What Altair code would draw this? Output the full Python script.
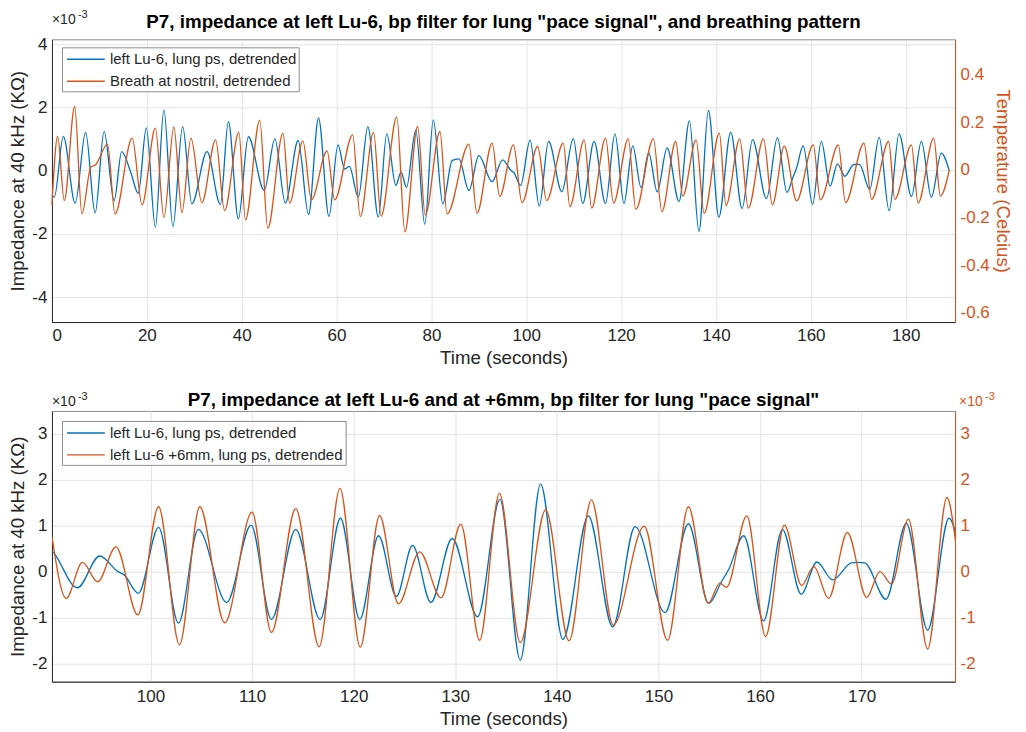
import altair as alt
import pandas as pd

# ---------------- data ----------------
S_IMP = "left Lu-6, lung ps, detrended"
S_BR = "Breath at nostril, detrended"
S_6MM = "left Lu-6 +6mm, lung ps, detrended"
TITLE_TOP = 'P7, impedance at left Lu-6, bp filter for lung "pace signal", and breathing pattern'
TITLE_BOT = 'P7, impedance at left Lu-6 and at +6mm, bp filter for lung "pace signal"'

# impedance at left Lu-6 (x10^-3 KOhm), time in s
t_imp = [0, 0.5, 2.4, 4.9, 7.1, 9.1, 11.0, 13.1, 14.7, 16.6, 18.2, 19.9, 21.8, 23.6, 25.5,
         27.55, 29.5, 32.7, 35.5, 37.2, 39.3, 41.4, 44.75, 47.0, 49.2, 51.9, 54.1, 56.2, 58.4,
         60.3, 61.7, 62.7, 64.6, 66.6, 68.8, 70.6, 72.5, 73.6, 74.75, 76.7, 78.6, 80.4, 82.4,
         84.4, 85.8, 87.9, 90.0, 92.8, 95.0, 96.8, 97.4, 98.8, 100.8, 102.75, 104.7, 107.5,
         109.9, 111.9, 114.3, 116.7, 118.7, 120.6, 122.45, 124.2, 125.8, 127.6, 129.7, 132.2,
         134.4, 136.4, 138.4, 140.6, 143.1, 145.5, 147.7, 150.65, 152.95, 154.95, 156.2, 156.9,
         158.4, 160.35, 162.2, 164.05, 165.6, 167.15, 169.0, 169.6, 170.3, 172.4, 174.4, 176.5,
         178.6, 181.2, 183.3, 185.4, 187.5, 189.2]
v_imp = [-0.79, -0.84, 1.08, -1.03, 1.21, -1.34, 1.23, -0.95, 0.6, -0.05, -0.72, 1.35, -1.79,
         1.92, -1.77, 1.39, -1.05, 0.6, -1.07, 1.55, -1.53, 1.07, -0.63, 1.0, -1.03, 0.95, -1.39,
         1.66, -1.45, 0.81, 0.05, 0.13, -0.84, 1.39, -1.47, 1.16, -0.47, -0.05, -0.53, 1.28,
         -1.7, 1.6, -1.05, 0.32, 0.37, -0.63, 0.47, -0.35, 0.34, 0.0, -0.07, -0.47, 0.96, -1.12,
         0.92, -0.67, 1.01, -1.04, 0.92, -1.04, 1.16, -1.04, 0.78, -0.54, 0.57, -0.67, 0.72,
         -0.98, 1.57, -1.92, 1.9, -1.47, 1.21, -1.2, 0.98, -0.89, 1.04, -0.69, -0.22, 0.04,
         0.78, -1.07, 0.92, -0.49, 0.21, -0.18, 0.19, 0.2, 0.19, -0.6, 1.05, -1.27, 1.16, -0.82,
         0.92, -0.84, 0.55, -0.02]

# breath temperature at nostril (Celsius)
t_br = [0, 1.2, 2.6, 4.8, 6.3, 8.2, 9.2, 11.7, 13.3, 16.9, 19.0, 21.8, 23.6, 25.7, 27.4, 29.3,
        31.6, 34.5, 36.4, 39.4, 40.8, 43.8, 45.5, 48.7, 50.1, 52.9, 54.7, 58.0, 59.6, 63.4, 65.0,
        67.8, 69.4, 72.7, 74.4, 77.1, 78.7, 81.8, 83.3, 87.9, 89.6, 92.8, 94.4, 97.3, 99.1,
        102.4, 104.3, 107.8, 109.2, 112.2, 113.8, 116.7, 118.4, 121.5, 123.1, 126.8, 128.6,
        131.5, 133.0, 135.8, 137.5, 140.7, 142.1, 145.0, 146.8, 150.0, 151.9, 154.4, 157.0,
        160.5, 162.0, 165.8, 167.3, 171.2, 172.8, 176.4, 177.7, 181.2, 182.6, 185.9, 187.3, 189.2]
v_br = [-0.147, 0.14, -0.129, 0.267, -0.185, 0.011, 0.021, 0.108, -0.185, 0.133, -0.147, 0.175,
        -0.2, 0.18, -0.18, 0.133, -0.138, 0.126, -0.171, 0.157, -0.21, 0.208, -0.246, 0.154,
        -0.14, 0.122, -0.126, 0.08, -0.126, 0.147, -0.196, 0.157, -0.194, 0.222, -0.26, 0.182,
        -0.19, 0.161, -0.185, 0.108, -0.182, 0.112, -0.112, 0.105, -0.138, 0.098, -0.129, 0.112,
        -0.154, 0.126, -0.161, 0.133, -0.14, 0.13, -0.166, 0.13, -0.175, 0.119, -0.11, 0.126,
        -0.183, 0.154, -0.15, 0.13, -0.161, 0.13, -0.147, 0.1, -0.13, 0.105, -0.126, 0.105,
        -0.138, 0.112, -0.124, 0.119, -0.124, 0.105, -0.14, 0.133, -0.11, 0.0]

# impedance at left Lu-6 +6mm (x10^-3 KOhm)
t_6mm = [90.3, 91.7, 93.3, 94.8, 96.6, 98.75, 100.8, 102.85, 104.85, 107.3, 110.0, 111.9, 114.3,
         116.6, 118.65, 120.65, 122.55, 124.4, 126.5, 128.6, 130.55, 132.4, 134.35, 136.4, 138.9,
         141.2, 143.4, 145.55, 148.6, 150.9, 152.95, 154.9, 156.05, 156.7, 158.7, 160.55, 162.4,
         164.1, 165.3, 166.75, 168.6, 170.5, 171.8, 172.95, 174.6, 176.5, 178.4, 179.25]
v_6mm = [0.76, -0.58, 0.2, -0.22, 0.54, -0.94, 1.41, -1.59, 1.41, -1.11, 1.29, -1.32, 1.37,
         -1.63, 1.81, -1.64, 1.22, -0.70, 0.43, -0.57, 1.03, -1.49, 1.70, -1.54, 1.34, -1.5,
         1.56, -1.16, 0.99, -1.49, 1.41, -0.69, -0.25, -0.34, 1.21, -1.41, 1.01, -0.30, 0.11,
         -0.58, 0.85, -0.56, 0.0, -0.27, 1.14, -1.68, 1.61, 0.65]

top_x_ticks = [0, 20, 40, 60, 80, 100, 120, 140, 160, 180]
top_left_ticks = [-4, -2, 0, 2, 4]
top_right_ticks = [-0.6, -0.4, -0.2, 0, 0.2, 0.4]
bot_x_ticks = [100, 110, 120, 130, 140, 150, 160, 170]
bot_ticks = [-2, -1, 0, 1, 2, 3]

# ---------------- style ----------------
BLUE = "#0072BD"
ORANGE = "#D95319"
DARK = "#262626"
FONT = "Liberation Sans"
W = 904

df_imp = pd.DataFrame({"t": t_imp, "v": v_imp, "s": S_IMP})
df_br = pd.DataFrame({"t": t_br, "v": v_br, "s": S_BR})
df_6mm = pd.DataFrame({"t": t_6mm, "v": v_6mm, "s": S_6MM})


def legend(y):
    return alt.Legend(title=None, orient="none", legendX=10, legendY=y, symbolType="M-2.1,0H2.1",
                      symbolSize=324, symbolStrokeWidth=1.4, symbolOffset=12, labelOffset=14,
                      labelFont=FONT, labelFontSize=15, labelColor=DARK, labelLimit=0,
                      fillColor="white", strokeColor="#8c8c8c", padding=2, rowPadding=4)


LBL = "'' + datum.value"


def exp_text(color, x, y):
    base = alt.Chart(pd.DataFrame({"a": ["×10"], "b": ["-3"]}))
    t1 = base.mark_text(align="left", baseline="alphabetic", font=FONT, fontSize=14,
                        color=color).encode(x=alt.value(x), y=alt.value(y), text="a:N")
    t2 = base.mark_text(align="left", baseline="alphabetic", font=FONT, fontSize=11,
                        color=color).encode(x=alt.value(x + 26), y=alt.value(y - 6), text="b:N")
    return t1 + t2


def title_text(txt, y):
    return alt.Chart(pd.DataFrame({"a": [txt]})).mark_text(
        align="center", baseline="alphabetic", font=FONT, fontSize=18.8, fontWeight="bold",
        color="black").encode(x=alt.value(W / 2), y=alt.value(y), text="a:N")


# ---------------- top panel ----------------
x_top = alt.X("t:Q", scale=alt.Scale(domain=[0, 190.4], nice=False, zero=False),
              axis=alt.Axis(title="Time (seconds)", values=top_x_ticks, labelExpr=LBL))
col_top = alt.Color("s:N", scale=alt.Scale(domain=[S_IMP, S_BR], range=[BLUE, ORANGE]),
                    legend=legend(8))

top_imp = alt.Chart(df_imp).mark_line(interpolate="monotone", strokeWidth=1.3).encode(
    x=x_top,
    y=alt.Y("v:Q", scale=alt.Scale(domain=[-4.79, 4.15], nice=False, zero=False),
            axis=alt.Axis(title="Impedance at 40 kHz (KΩ)", values=top_left_ticks,
                          labelExpr=LBL, grid=True, titlePadding=4)),
    color=col_top)
top_br = alt.Chart(df_br).mark_line(interpolate="monotone", strokeWidth=1.3).encode(
    x=x_top,
    y=alt.Y("v:Q", scale=alt.Scale(domain=[-0.639, 0.548], nice=False, zero=False),
            axis=alt.Axis(title="Temperature (Celcius)", orient="right", values=top_right_ticks,
                          labelExpr=LBL, grid=False, labelColor=ORANGE, titlePadding=3,
                          labelPadding=5, titleColor=ORANGE, domainColor=ORANGE)),
    color=col_top)

top = alt.layer(top_imp, top_br, exp_text(DARK, 0, -15), title_text(TITLE_TOP, -11)).resolve_scale(
    y="independent").properties(width=W, height=283)

# ---------------- bottom panel ----------------
x_bot = alt.X("t:Q", scale=alt.Scale(domain=[90.3, 179.2], nice=False, zero=False),
              axis=alt.Axis(title="Time (seconds)", values=bot_x_ticks, labelExpr=LBL,
                            labelPadding=7))
col_bot = alt.Color("s:N", scale=alt.Scale(domain=[S_IMP, S_6MM], range=[BLUE, ORANGE]),
                    legend=legend(10))

bot_imp = alt.Chart(df_imp).mark_line(interpolate="monotone", strokeWidth=1.3, clip=True).encode(
    x=x_bot,
    y=alt.Y("v:Q", scale=alt.Scale(domain=[-2.39, 3.49], nice=False, zero=False),
            axis=alt.Axis(title="Impedance at 40 kHz (KΩ)", values=bot_ticks,
                          labelExpr=LBL, grid=True, titlePadding=4)),
    color=col_bot)
bot_6mm = alt.Chart(df_6mm).mark_line(interpolate="monotone", strokeWidth=1.3, clip=True).encode(
    x=x_bot,
    y=alt.Y("v:Q", scale=alt.Scale(domain=[-2.39, 3.49], nice=False, zero=False),
            axis=alt.Axis(title=None, orient="right", values=bot_ticks, labelExpr=LBL,
                          labelPadding=5, grid=False, labelColor=ORANGE, domainColor=ORANGE)),
    color=col_bot)

bot = alt.layer(bot_imp, bot_6mm, exp_text(DARK, 0, -5), exp_text(ORANGE, W + 4, -5),
                title_text(TITLE_BOT, -5)).resolve_scale(y="independent").properties(
    width=W, height=271)

chart = alt.vconcat(top, bot, spacing=22).resolve_scale(color="independent").properties(
    padding={"left": 0, "right": 6, "top": 0, "bottom": 0}
).configure_view(stroke="#8c8c8c", strokeWidth=1).configure_axis(
    labelFont=FONT, labelFontSize=17, labelColor=DARK, titleFont=FONT, titleFontSize=18.7,
    titleFontWeight="normal", titleColor=DARK, domainColor=DARK, gridColor="#e3e3e3",
    ticks=False, labelPadding=5, titlePadding=5
)

chart.save("out.html", embed_options={"renderer": "svg", "actions": False})
